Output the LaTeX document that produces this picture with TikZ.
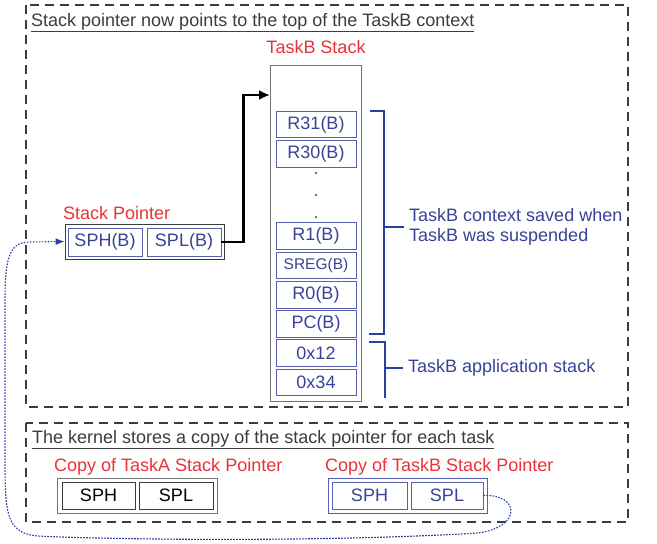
\documentclass[tikz,border=0pt]{standalone}
\usepackage{fontspec}
\setmainfont{Liberation Sans}
\usetikzlibrary{arrows.meta}
\definecolor{taskred}{RGB}{232,50,56}
\definecolor{regblue}{RGB}{56,66,150}
\definecolor{cellblue}{RGB}{86,96,172}
\definecolor{bracketblue}{RGB}{44,62,162}
\definecolor{boxgray}{RGB}{60,60,60}
\definecolor{stackgray}{RGB}{115,115,115}
\tikzset{
  region/.style={draw=boxgray, line width=1.4pt, dash pattern=on 9pt off 6pt},
  redtitle/.style={text=taskred, inner sep=0pt},
  cell/.style={draw=cellblue, line width=0.9pt, text=regblue, minimum width=80pt, minimum height=26.5pt, inner sep=1pt},
  plaincell/.style={draw=boxgray, line width=0.9pt, text=black, minimum width=73pt, minimum height=27pt, inner sep=1pt},
  holder/.style={draw=#1, line width=0.9pt, minimum width=159pt, minimum height=35pt, inner sep=0pt},
  brace/.style={draw=bracketblue, line width=2.4pt},
  ptrarrow/.style={line width=2.4pt, -{Latex[length=11pt,width=10pt]}},
  savelink/.style={draw=bracketblue, line width=1.1pt, dash pattern=on 1.6pt off 1.4pt, -{Latex[length=9pt,width=7pt]}}
}
\begin{document}
\begin{tikzpicture}[x=1pt, y=-1pt, font=\fontsize{18}{20}\selectfont]
\useasboundingbox (0,0) rectangle (657,544);
% current context
\draw[region] (26,5) rectangle (628,407);
\node[anchor=base west, inner sep=0pt, text=boxgray] (ctxtitle) at (31,26)
  {\underline{Stack pointer now points to the top of the TaskB context}};
\node[redtitle] (stacklabel) at (316,47) {TaskB Stack};
\node[draw=stackgray, line width=0.9pt, minimum width=91pt, minimum height=336pt] (stack) at (315.5,233) {};
\foreach \nm/\y/\txt in {r31/124.5/{R31(B)}, r30/154/{R30(B)}, r1/236/{R1(B)},
    sreg/265.5/{\fontsize{15.5}{17}\selectfont SREG(B)}, r0/295/{R0(B)}, pc/324/{PC(B)},
    a12/353/{0x12}, a34/382.5/{0x34}}
  \node[cell] (\nm) at (316,\y) {\txt};
\foreach \y in {173,195,217}
  \fill[boxgray] (316,\y) circle (1.2);
% brackets
\draw[brace] (370,111) -- (384,111) -- (384,334) -- (369,334);
\draw[brace] (384,227) -- (404,227) node[anchor=west, inner sep=4pt, text=regblue, align=left] (ctxnote)
  {TaskB context saved when\\TaskB was suspended};
\draw[brace] (369,342) -- (385,342) -- (385,398);
\draw[brace] (385,368) -- (403,368) node[anchor=west, inner sep=4pt, text=regblue] (appnote)
  {TaskB application stack};
% stack pointer
\node[redtitle, anchor=west] (splabel) at (63,213) {Stack Pointer};
\node[holder=boxgray] (sp) at (144.5,241.5) {};
\node[cell, minimum width=74pt, minimum height=28pt] (sph) at (105,242) {SPH(B)};
\node[cell, minimum width=74pt, minimum height=28pt] (spl) at (184,242) {SPL(B)};
\coordinate (stackin) at (270,95);
\draw[ptrarrow] (spl.east) -- ++(22,0) |- (stackin);
% kernel copies
\draw[region] (26,423) rectangle (628,522);
\node[anchor=base west, inner sep=0pt, text=boxgray] (kertitle) at (32,443)
  {\underline{The kernel stores a copy of the stack pointer for each task}};
\node[redtitle, anchor=west] (copyalabel) at (54,467) {Copy of TaskA Stack Pointer};
\node[holder=stackgray, minimum width=160pt] (copya) at (137,495.5) {};
\node[plaincell] (copyah) at (98.5,495.5) {SPH};
\node[plaincell, minimum width=74pt] (copyal) at (176,495.5) {SPL};
\node[redtitle, anchor=west] (copyblabel) at (325,467) {Copy of TaskB Stack Pointer};
\node[holder=cellblue] (copyb) at (407.5,495.5) {};
\node[cell, minimum width=75pt, minimum height=27pt] (copybh) at (369.5,495.5) {SPH};
\node[cell, minimum width=72pt, minimum height=27pt] (copybl) at (447,495.5) {SPL};
% restore link
\draw[savelink] (copybl.east) .. controls (520,494) and (522,527) .. (478,533)
  .. controls (330,542) and (120,540) .. (38,536)
  .. controls (3,533) and (5,510) .. (5,440)
  -- (5,300) .. controls (5,256) and (10,242) .. (30,242)
  -- (sp.west);
\end{tikzpicture}
\end{document}
